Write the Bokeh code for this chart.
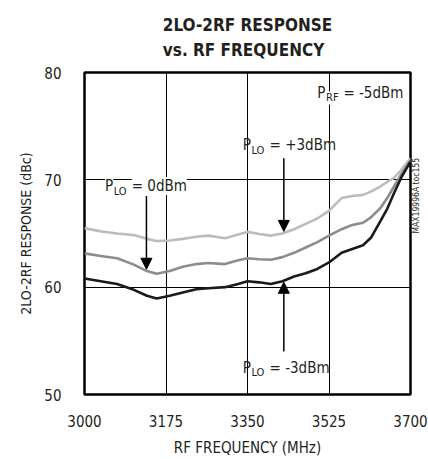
import numpy as np
from bokeh.plotting import figure
from bokeh.models import Range1d, FixedTicker, Label, Arrow, NormalHead, Title, LinearAxis
from bokeh.embed import file_html
from bokeh.resources import INLINE

# ---- data ----
freq = [3000, 3035, 3070, 3106, 3134, 3155, 3183, 3211, 3240, 3266, 3302, 3330,
        3350, 3375, 3400, 3425, 3450, 3475, 3500, 3525, 3552, 3575, 3598, 3615,
        3636, 3650, 3665, 3680, 3700]
plo_p3 = [65.5, 65.2, 65.0, 64.85, 64.5, 64.3, 64.35, 64.5, 64.7, 64.8, 64.55, 64.9,
          65.15, 64.95, 64.8, 65.0, 65.4, 65.9, 66.4, 67.1, 68.3, 68.5, 68.6, 68.9,
          69.4, 69.8, 70.2, 70.9, 72.0]
plo_0 = [63.15, 62.9, 62.7, 62.1, 61.5, 61.25, 61.5, 61.9, 62.15, 62.25, 62.15, 62.5,
         62.7, 62.6, 62.55, 62.8, 63.2, 63.7, 64.2, 64.8, 65.4, 65.8, 66.0, 66.5,
         67.4, 68.3, 69.4, 70.5, 71.8]
plo_m3 = [60.8, 60.55, 60.3, 59.75, 59.2, 58.95, 59.2, 59.5, 59.8, 59.9, 60.0, 60.3,
          60.55, 60.45, 60.3, 60.55, 61.0, 61.3, 61.7, 62.3, 63.2, 63.55, 63.9, 64.6,
          66.2, 67.3, 68.8, 70.2, 71.7]
x_ticks = [3000, 3175, 3350, 3525, 3700]
y_ticks = [50, 60, 70, 80]

FONT = "DejaVu Sans Condensed"
TXT = "#231f20"

p = figure(width=428, height=459, output_backend="svg", toolbar_location=None,
           x_range=Range1d(3000, 3700), y_range=Range1d(50, 80),
           min_border_left=84, min_border_right=13, min_border_top=68,
           min_border_bottom=64)
p.background_fill_color = "white"
p.border_fill_color = "white"
p.outline_line_color = "black"
p.outline_line_width = 2.5

for ax in (p.xaxis[0], p.yaxis[0]):
    ax.axis_line_color = None
    ax.major_tick_line_color = None
    ax.minor_tick_line_color = None
    ax.major_label_text_font = FONT
    ax.major_label_text_font_size = "15px"
    ax.major_label_text_color = TXT
    ax.axis_label_text_font = FONT
    ax.axis_label_text_font_style = "normal"
    ax.axis_label_text_color = TXT
p.xaxis.axis_label_text_font_size = "15px"
p.yaxis.axis_label_text_font_size = "14px"
p.xaxis.ticker = FixedTicker(ticks=x_ticks)
p.yaxis.ticker = FixedTicker(ticks=y_ticks)
p.xaxis.axis_label = "RF FREQUENCY (MHz)"
p.yaxis.axis_label = "2LO-2RF RESPONSE (dBc)"
p.xaxis.major_label_standoff = 14
p.yaxis.major_label_standoff = 17
p.xaxis.axis_label_standoff = 9
p.yaxis.axis_label_standoff = 7

p.xgrid.ticker = FixedTicker(ticks=x_ticks[1:-1])
p.ygrid.ticker = FixedTicker(ticks=y_ticks[1:-1])
for g in (p.xgrid[0], p.ygrid[0]):
    g.grid_line_color = "black"
    g.grid_line_width = 1

p.line(freq, plo_p3, line_color="#bcbcbc", line_width=2.6)
p.line(freq, plo_0, line_color="#8c8c8c", line_width=2.6)
p.line(freq, plo_m3, line_color="#1a1a1a", line_width=2.6)

p.add_layout(Title(text="2LO-2RF RESPONSE\nvs. RF FREQUENCY", align="center", text_font=FONT,
                   text_font_size="17px", text_font_style="bold", text_color=TXT,
                   text_line_height=1.25, standoff=25), "above")

# catalogue code at the right edge, reading bottom-to-top
code_axis = LinearAxis(axis_label="MAX19996A toc155", ticker=FixedTicker(ticks=[]),
                       axis_line_color=None, major_tick_line_color=None,
                       minor_tick_line_color=None, major_tick_out=0, major_tick_in=0,
                       major_label_standoff=0, axis_label_standoff=5,
                       axis_label_orientation=np.pi / 2,
                       axis_label_text_font=FONT, axis_label_text_font_size="8.5px",
                       axis_label_text_font_style="normal", axis_label_text_color=TXT)
p.add_layout(code_axis, "right")


def plabel(x, y, sub, rest, bg=None, size=15, subsize=11):
    wp = 0.543 * size + 0.5
    wsub = {"LO": (0.501 + 0.708) * subsize, "RF": (0.626 + 0.518) * subsize}[sub] + 0.5
    gap = 0.286 * size
    kw = dict(text_font=FONT, text_color=TXT, text_baseline="middle", text_align="left")
    if bg:
        kw.update(background_fill_color=bg)
    p.add_layout(Label(x=x, y=y, text="P", text_font_size=f"{size}px", **kw))
    p.add_layout(Label(x=x, y=y, text=sub, x_offset=wp, y_offset=-5,
                       text_font_size=f"{subsize}px", **kw))
    p.add_layout(Label(x=x, y=y, text=rest, x_offset=wp + wsub + gap,
                       text_font_size=f"{size}px", **kw))


plabel(3500, 78.1, "RF", "= -5dBm", bg="white")
plabel(3340, 73.2, "LO", "= +3dBm")
plabel(3044, 69.42, "LO", "= 0dBm", bg="white")
plabel(3340, 52.5, "LO", "= -3dBm")

head = dict(size=11, fill_color="black", line_color="black")
xa = 3133
p.add_layout(Arrow(x_start=xa, y_start=68.5, x_end=xa, y_end=float(np.interp(xa, freq, plo_0)) + 0.15,
                   line_width=1.5, end=NormalHead(**head)))
xb = 3428
p.add_layout(Arrow(x_start=xb, y_start=72.0, x_end=xb, y_end=float(np.interp(xb, freq, plo_p3)) + 0.15,
                   line_width=1.5, end=NormalHead(**head)))
p.add_layout(Arrow(x_start=xb, y_start=54.0, x_end=xb, y_end=float(np.interp(xb, freq, plo_m3)) - 0.15,
                   line_width=1.5, end=NormalHead(**head)))

open("out.html", "w").write(file_html(p, INLINE))
